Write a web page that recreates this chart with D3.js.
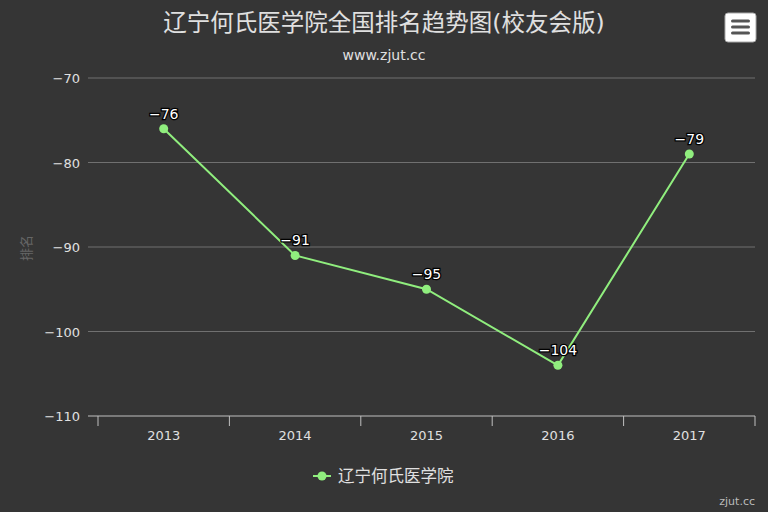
<!DOCTYPE html>
<html><head><meta charset="utf-8">
<script src="https://cdn.jsdelivr.net/npm/d3@7"></script>
<style>body{margin:0;background:#353535}svg{display:block}text{font-family:"DejaVu Sans","Noto Sans CJK SC",sans-serif}</style>
</head><body><svg id="c" width="768" height="512"></svg>
<script>
const categories=["2013","2014","2015","2016","2017"];
const values=[-76,-91,-95,-104,-79];
const yTicks=[-70,-80,-90,-100,-110];
const seriesName="辽宁何氏医学院";
const svg=d3.select("#c");
svg.append("rect").attr("width",768).attr("height",512).attr("fill","#353535");
const L=98,R=755,T=78,B=416;
const x=d3.scaleBand().domain(categories).range([L,R]);
const y=d3.scaleLinear().domain([-110,-70]).range([B,T]);
svg.append("text").attr("x",384).attr("y",31).attr("text-anchor","middle").attr("fill","#e0e0e0").attr("font-size",23.5).attr("font-family","Noto Sans CJK SC").text("辽宁何氏医学院全国排名趋势图(校友会版)");
svg.append("text").attr("x",384).attr("y",60).attr("text-anchor","middle").attr("fill","#e0e0e0").attr("font-size",14).text("www.zjut.cc");
yTicks.forEach(t=>{
 svg.append("line").attr("x1",88).attr("x2",R).attr("y1",y(t)).attr("y2",y(t)).attr("stroke",t===-110?"#c0c0c0":"#707070").attr("stroke-width",1);
 svg.append("text").attr("x",80).attr("y",y(t)+5).attr("text-anchor","end").attr("fill","#e0e0e0").attr("font-size",13).text("\u2212"+Math.abs(t));
});
const ticks=categories.map(c=>x(c)).concat([R]);
ticks.forEach(tx=>svg.append("line").attr("x1",tx).attr("x2",tx).attr("y1",B).attr("y2",B+10).attr("stroke","#c0c0c0"));
categories.forEach(c=>svg.append("text").attr("x",x(c)+x.bandwidth()/2).attr("y",B+24).attr("text-anchor","middle").attr("fill","#e0e0e0").attr("font-size",13).text(c));
svg.append("text").attr("transform","translate(31,248) rotate(-90)").attr("text-anchor","middle").attr("fill","#666").attr("font-size",13).attr("font-family","Noto Sans CJK SC").text("排名");
const cx=c=>x(c)+x.bandwidth()/2;
svg.append("path").attr("d",d3.line().x((d,i)=>cx(categories[i])).y(d=>y(d))(values)).attr("fill","none").attr("stroke","#90ee7e").attr("stroke-width",2);
values.forEach((v,i)=>{
 svg.append("circle").attr("cx",cx(categories[i])).attr("cy",y(v)).attr("r",4.5).attr("fill","#90ee7e");
 svg.append("text").attr("x",cx(categories[i])).attr("y",y(v)-10).attr("text-anchor","middle").attr("font-size",14).attr("fill","#fff").attr("stroke","#000").attr("stroke-width",2.5).attr("paint-order","stroke").text("\u2212"+Math.abs(v));
});
svg.append("line").attr("x1",313).attr("x2",331).attr("y1",476).attr("y2",476).attr("stroke","#90ee7e").attr("stroke-width",2);
svg.append("circle").attr("cx",322).attr("cy",476).attr("r",4.5).attr("fill","#90ee7e");
svg.append("text").attr("x",338).attr("y",482).attr("fill","#e0e0e0").attr("font-size",16.5).attr("font-family","Noto Sans CJK SC").text(seriesName);
svg.append("text").attr("x",755).attr("y",505).attr("text-anchor","end").attr("fill","#bbb").attr("font-size",11).text("zjut.cc");
svg.append("rect").attr("x",725).attr("y",13).attr("width",31).attr("height",29).attr("rx",3).attr("fill","#fff").attr("stroke","#aaa");
[21,27,33].forEach(yy=>svg.append("rect").attr("x",731).attr("y",yy-1.5).attr("width",19).attr("height",3).attr("rx",1.5).attr("fill","#555"));
</script></body></html>
